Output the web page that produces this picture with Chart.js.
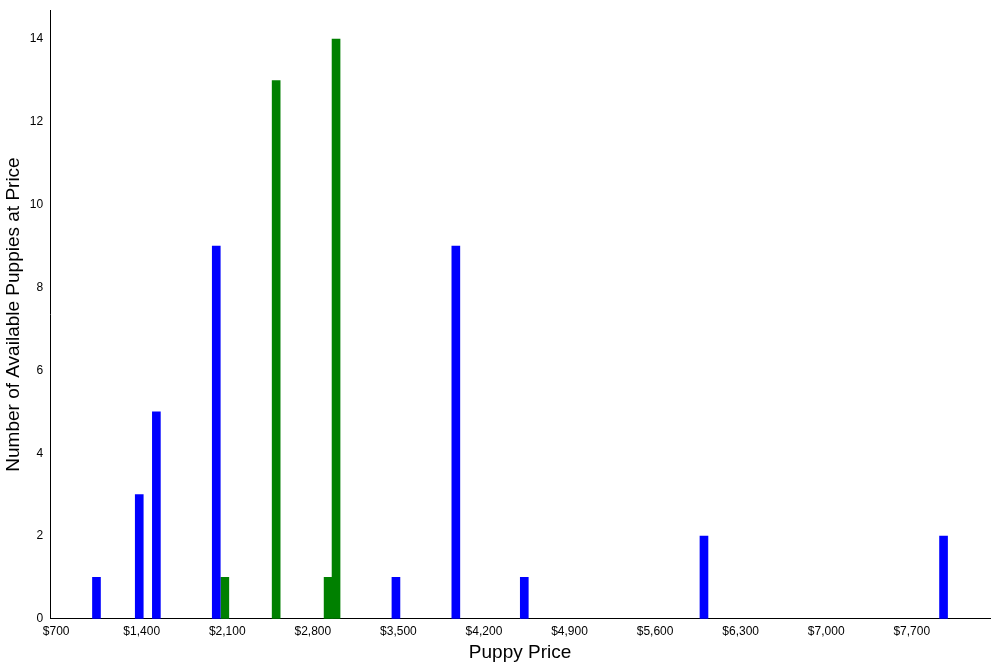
<!DOCTYPE html>
<html><head><meta charset="utf-8">
<script src="https://cdn.jsdelivr.net/npm/chart.js@4"></script>
<style>html,body{margin:0;background:#fff}#w{width:1000px;height:666px}</style>
</head><body><div id="w"><canvas id="c"></canvas></div>
<script>
const bluePrices=[1030,1380,1520,2010,3480,3970,4530,6000,7960];
const blueCounts=[1,3,5,9,1,9,1,2,2];
const greenPrices=[2080,2500,2925,2990];
const greenCounts=[1,13,1,14];
const xTicks=[700,1400,2100,2800,3500,4200,4900,5600,6300,7000,7700];
const yTicks=[0,2,4,6,8,10,12,14];
const mk=(xs,ys)=>xs.map((x,i)=>({x:x,y:ys[i]}));
new Chart(document.getElementById('c'),{type:'bar',
data:{datasets:[
{data:mk(bluePrices,blueCounts),backgroundColor:'#0000ff',barThickness:8,grouped:false},
{data:mk(greenPrices,greenCounts),backgroundColor:'#008000',barThickness:8,grouped:false}]},
options:{responsive:true,maintainAspectRatio:false,animation:false,
layout:{padding:{top:8,right:10,left:2,bottom:0}},
plugins:{legend:{display:false},tooltip:{enabled:false}},
scales:{
x:{type:'linear',offset:false,min:651,max:8340,grid:{display:false,drawTicks:true,tickLength:4},border:{color:'#000'},
afterBuildTicks:a=>{a.ticks=xTicks.map(v=>({value:v}));},
ticks:{color:'#000',font:{size:12},padding:2,maxRotation:0,autoSkip:false,callback:v=>'$'+v.toLocaleString('en-US')},
title:{display:true,text:'Puppy Price',color:'#000',font:{size:19},padding:{top:0,bottom:2}}},
y:{min:0,max:14.7,grid:{display:false,tickLength:4},border:{color:'#000'},
afterBuildTicks:a=>{a.ticks=yTicks.map(v=>({value:v}));},
ticks:{color:'#000',font:{size:12}},
title:{display:true,text:'Number of Available Puppies at Price',color:'#000',font:{size:19},padding:{top:0,bottom:2}}}}}});
</script></body></html>
